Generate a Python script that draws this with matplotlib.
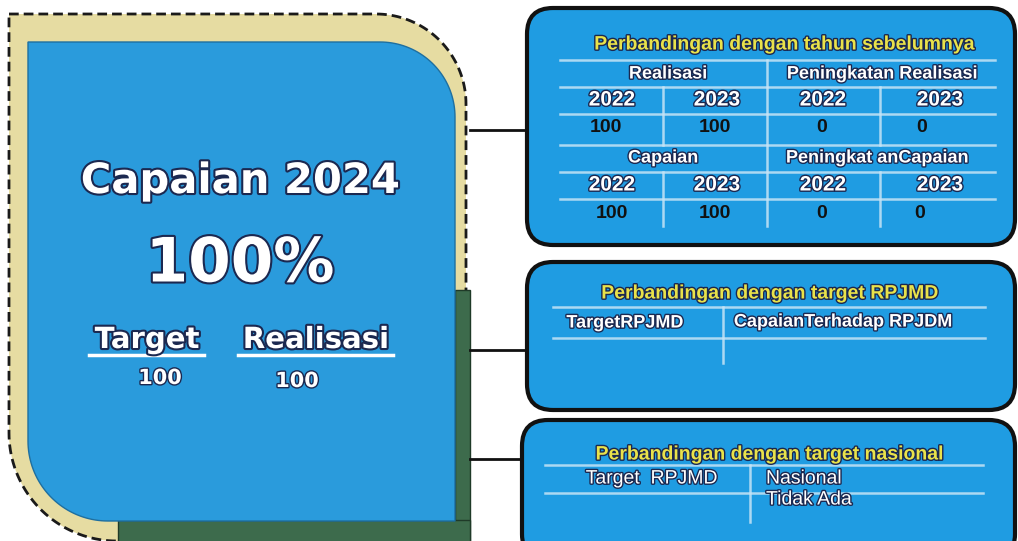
import numpy as np
import matplotlib.pyplot as plt
from matplotlib.patches import Polygon, FancyBboxPatch, Rectangle
import matplotlib.patheffects as pe

# ---- data ----
tahun = ["2022", "2023"]
realisasi_lalu = [100, 100]
peningkatan_realisasi = [0, 0]
capaian_lalu = [100, 100]
peningkatan_capaian = [0, 0]
capaian_2024 = 100
target_2024 = 100
realisasi_2024 = 100
nasional = "Tidak Ada"

BLUE = "#2a9bdc"
KHAKI = "#e6dca2"
GREEN = "#3d6b4c"
YELLOW = "#e9e24a"
LINE = "#c6e4f6"
ARIAL = ["Liberation Sans", "DejaVu Sans"]

outline = [pe.withStroke(linewidth=3, foreground="#1b2850")]
thin_outline = [pe.withStroke(linewidth=2, foreground="#1b2850")]


def blob(x0, y0, x1, y1, r_tr, r_bl, n=40):
    # rectangle with rounded top-right and bottom-left corners (y axis points down)
    pts = [(x0, y0), (x1 - r_tr, y0)]
    t = np.linspace(-np.pi / 2, 0, n)
    pts += list(zip(x1 - r_tr + r_tr * np.cos(t), y0 + r_tr + r_tr * np.sin(t)))
    pts += [(x1, y1), (x0 + r_bl, y1)]
    t = np.linspace(np.pi / 2, np.pi, n)
    pts += list(zip(x0 + r_bl + r_bl * np.cos(t), y1 - r_bl + r_bl * np.sin(t)))
    return pts


fig = plt.figure(figsize=(10.18, 5.41), dpi=100)
ax = fig.add_axes([0, 0, 1, 1])
ax.set_xlim(0, 1018)
ax.set_ylim(541, 0)
ax.axis("off")

# ---- left card ----
ax.add_patch(Polygon(blob(9, 14, 466, 541, 90, 108), closed=True, facecolor=KHAKI,
                     edgecolor="#1a1a1a", linewidth=2, linestyle=(0, (3.5, 1.8))))
ax.add_patch(Rectangle((455, 290), 15, 260, facecolor=GREEN, edgecolor="#1f3a28", lw=1))
ax.add_patch(Rectangle((118, 520), 352, 30, facecolor=GREEN, edgecolor="#1f3a28", lw=1))
ax.add_patch(Polygon(blob(28, 42, 455, 521, 75, 80), closed=True, facecolor=BLUE,
                     edgecolor="#1e6fa0", linewidth=1))

ax.text(240, 181, "Capaian 2024", color="white", fontsize=30, fontweight="bold",
        ha="center", va="center", path_effects=outline)
ax.text(240, 265, f"{capaian_2024}%", color="white", fontsize=44, fontweight="bold",
        ha="center", va="center", path_effects=outline)
ax.text(147, 340, "Target", color="white", fontsize=21, fontweight="bold",
        ha="center", va="center", path_effects=outline)
ax.text(316, 340, "Realisasi", color="white", fontsize=21, fontweight="bold",
        ha="center", va="center", path_effects=outline)
ax.plot([89, 204], [355, 355], color="white", lw=2.5, path_effects=thin_outline)
ax.plot([238, 393], [355, 355], color="white", lw=2.5, path_effects=thin_outline)
ax.text(160, 378, str(target_2024), color="white", fontsize=15, fontweight="bold",
        ha="center", va="center", path_effects=thin_outline)
ax.text(297, 381, str(realisasi_2024), color="white", fontsize=15, fontweight="bold",
        ha="center", va="center", path_effects=thin_outline)

# ---- connectors ----
for y, x1 in [(130, 527), (350, 527), (459, 522)]:
    ax.plot([470, x1], [y, y], color="#111111", lw=2)

# ---- right panels ----
for x, y, w, h in [(527, 8, 488, 237), (527, 262, 488, 148), (522, 420, 493, 140)]:
    ax.add_patch(FancyBboxPatch((x, y), w, h, boxstyle="round,pad=0,rounding_size=26",
                                facecolor="#1f9ce2", edgecolor="#111111", linewidth=3))


def hline(y, xa, xb):
    ax.plot([xa, xb], [y, y], color=LINE, lw=1.8, alpha=0.85)


def vline(x, ya, yb):
    ax.plot([x, x], [ya, yb], color=LINE, lw=1.8, alpha=0.85)


def head(x, y, s, size=13, ha="center", weight="bold"):
    ax.text(x, y, s, color="white", fontsize=size, fontweight=weight, family=ARIAL,
            ha=ha, va="center", path_effects=thin_outline)


def title(x, y, s):
    ax.text(x, y, s, color=YELLOW, fontsize=14, fontweight="bold", family=ARIAL,
            ha="center", va="center", path_effects=thin_outline)


def val(x, y, s):
    ax.text(x, y, s, color="#111111", fontsize=14, fontweight="bold", family=ARIAL,
            ha="center", va="center")


# panel 1
title(785, 45, "Perbandingan dengan tahun sebelumnya")
for y in [60, 87, 114, 145, 172, 199]:
    hline(y, 560, 995)
vline(767, 60, 226)
vline(663, 87, 145)
vline(880, 87, 145)
vline(663, 172, 226)
vline(880, 172, 226)

head(668, 74, "Realisasi")
head(882, 74, "Peningkatan Realisasi")
head(663, 158, "Capaian")
head(877, 158, "Peningkat anCapaian")
year_x = [612, 717, 823, 940]
for i, t in enumerate(tahun + tahun):
    head(year_x[i], 100, t, size=15)
    head(year_x[i], 185, t, size=15)
for i, v in enumerate(realisasi_lalu + peningkatan_realisasi):
    val([606, 715, 822, 922][i], 128, str(v))
for i, v in enumerate(capaian_lalu + peningkatan_capaian):
    val([612, 715, 822, 920][i], 213, str(v))

# panel 2
title(770, 294, "Perbandingan dengan target RPJMD")
hline(307, 553, 985)
hline(338, 553, 985)
vline(723, 307, 363)
head(625, 323, "TargetRPJMD")
head(843, 322, "CapaianTerhadap RPJDM")

# panel 3
title(770, 455, "Perbandingan dengan target nasional")
hline(465, 545, 983)
hline(493, 545, 983)
vline(750, 465, 522)
head(652, 479, "Target  RPJMD", size=14, weight="normal")
head(766, 479, "Nasional", size=14, ha="left", weight="normal")
head(766, 500, nasional, size=14, ha="left", weight="normal")

fig.savefig("out.png", dpi=100)
